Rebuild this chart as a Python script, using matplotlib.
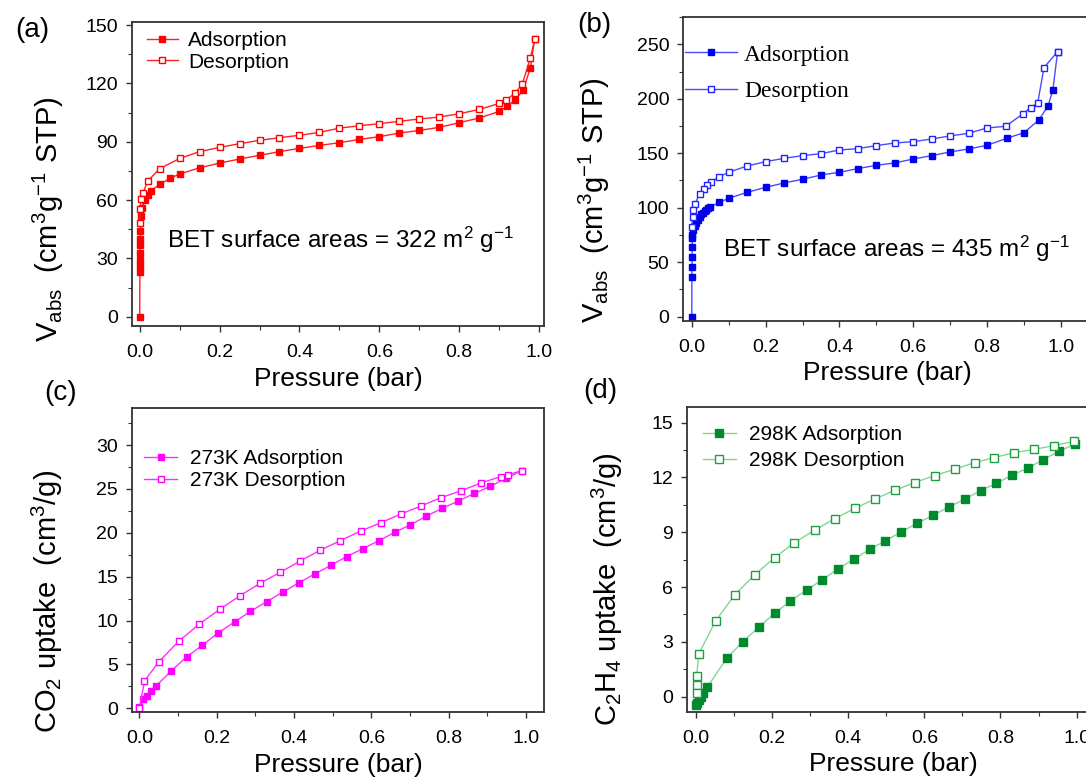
import numpy as np
import matplotlib
matplotlib.use("Agg")
import matplotlib.pyplot as plt
from matplotlib.ticker import MultipleLocator, FormatStrFormatter

plt.rcParams['font.family'] = ['Liberation Sans', 'DejaVu Sans']
plt.rcParams['mathtext.fontset'] = 'custom'
plt.rcParams['mathtext.rm'] = 'Liberation Sans'
plt.rcParams['mathtext.it'] = 'Liberation Sans:italic'
plt.rcParams['mathtext.bf'] = 'Liberation Sans:bold'

# ---------------- data ----------------
# (a) N2 isotherm, red
a_ads_p = [0.0, 0.0005, 0.0006, 0.0008, 0.001, 0.0012, 0.0015, 0.002, 0.003, 0.006, 0.013, 0.02, 0.028,
           0.05, 0.075, 0.10, 0.15, 0.20, 0.25, 0.30, 0.35, 0.40, 0.45, 0.50, 0.55, 0.60, 0.65, 0.70,
           0.75, 0.80, 0.85, 0.90, 0.92, 0.94, 0.96, 0.978, 0.989]
a_ads_v = [0, 23, 26, 29, 33, 37, 40, 44, 51.8, 55.7, 60, 62.6, 64.8, 68, 71.1, 73.4, 76.6, 79, 81.1,
           83, 84.9, 86.6, 88.1, 89.5, 91.2, 92.6, 94.5, 95.8, 97.4, 99.8, 102.2, 105.6, 108.3, 111.4,
           116.6, 127.9, 142.8]
a_des_p = [0.989, 0.978, 0.958, 0.94, 0.918, 0.90, 0.85, 0.80, 0.75, 0.70, 0.65, 0.60, 0.55, 0.50,
           0.45, 0.40, 0.35, 0.30, 0.25, 0.20, 0.15, 0.10, 0.05, 0.02, 0.008, 0.003, 0.0015, 0.0005]
a_des_v = [142.8, 133, 119.8, 115, 111.6, 109.7, 106.6, 104.4, 102.7, 101.7, 100.5, 99.3, 98.2, 97,
           94.8, 93.3, 92.1, 90.7, 89, 87.1, 84.9, 81.4, 76.1, 69.8, 63.4, 60.3, 55.4, 48.3]

# (b) N2 isotherm, blue
b_ads_p = [0.0, 0.0003, 0.0005, 0.0008, 0.001, 0.0013, 0.0015, 0.0045, 0.008, 0.012, 0.016, 0.021,
           0.025, 0.03, 0.035, 0.039, 0.044, 0.048, 0.075, 0.10, 0.15, 0.20, 0.25, 0.30, 0.35, 0.40,
           0.45, 0.50, 0.55, 0.60, 0.65, 0.70, 0.75, 0.80, 0.853, 0.90, 0.94, 0.965, 0.978, 0.991]
b_ads_v = [0, 36.7, 45.9, 55, 64.3, 72, 75, 79.6, 83, 86.3, 89, 91.8, 93.8, 95.5, 97, 97.9, 99.3,
           100.4, 105, 108.6, 114.1, 118.7, 122.7, 126.1, 130, 132.5, 135.9, 138.9, 141.1, 144.7,
           147.8, 151.2, 153.9, 157.3, 163.7, 168.9, 180.5, 193.4, 208.1, 243.3]
b_des_p = [0.991, 0.954, 0.937, 0.918, 0.898, 0.85, 0.80, 0.75, 0.70, 0.65, 0.60, 0.55, 0.50, 0.45,
           0.40, 0.35, 0.30, 0.25, 0.20, 0.15, 0.10, 0.075, 0.051, 0.042, 0.032, 0.021, 0.008, 0.0045,
           0.002, 0.0]
b_des_v = [243.3, 228.6, 196.1, 191.9, 186.4, 174.7, 173.2, 168.3, 165.9, 163.1, 160.6, 159.4, 157,
           154.2, 153, 149.6, 147.8, 145.3, 142.3, 138.3, 132.5, 128.5, 123.6, 120.6, 117.2, 112.6,
           103.1, 97.9, 91.2, 82]

# (c) CO2 at 273 K, magenta
c_ads_p = [0.0, 0.01, 0.019, 0.03, 0.042, 0.082, 0.122, 0.163, 0.204, 0.246, 0.287, 0.329, 0.371,
           0.412, 0.453, 0.495, 0.536, 0.578, 0.619, 0.66, 0.70, 0.742, 0.783, 0.824, 0.866, 0.907,
           0.948, 0.989]
c_ads_v = [0.1, 1.0, 1.4, 2.0, 2.5, 4.25, 5.85, 7.2, 8.6, 9.84, 11.05, 12.15, 13.25, 14.3, 15.3,
           16.3, 17.3, 18.2, 19.1, 20.05, 20.9, 21.9, 22.8, 23.6, 24.5, 25.3, 26.2, 27.1]
c_des_p = [0.989, 0.952, 0.934, 0.884, 0.832, 0.779, 0.728, 0.676, 0.624, 0.572, 0.519, 0.467,
           0.416, 0.364, 0.312, 0.259, 0.208, 0.155, 0.103, 0.05, 0.013, 0.0]
c_des_v = [27.1, 26.6, 26.4, 25.7, 24.8, 24.0, 23.05, 22.15, 21.15, 20.2, 19.1, 18.0, 16.8, 15.5,
           14.25, 12.8, 11.3, 9.6, 7.7, 5.3, 3.1, 0.0]

# (d) C2H4 at 298 K, green
d_ads_p = [0.0, 0.004, 0.009, 0.013, 0.018, 0.03, 0.082, 0.123, 0.166, 0.207, 0.248, 0.291, 0.332,
           0.373, 0.415, 0.457, 0.498, 0.54, 0.581, 0.623, 0.665, 0.707, 0.748, 0.789, 0.83, 0.871,
           0.912, 0.954, 0.996]
d_ads_v = [-0.45, -0.36, -0.2, 0.0, 0.2, 0.52, 2.13, 3.0, 3.82, 4.57, 5.23, 5.85, 6.39, 7.0, 7.52,
           8.07, 8.53, 9.03, 9.49, 9.93, 10.39, 10.82, 11.28, 11.68, 12.12, 12.5, 12.97, 13.43, 13.83]
d_des_p = [0.994, 0.941, 0.889, 0.836, 0.784, 0.732, 0.68, 0.627, 0.575, 0.523, 0.47, 0.417, 0.365,
           0.313, 0.258, 0.207, 0.155, 0.102, 0.052, 0.008, 0.002, 0.002, 0.002]
d_des_v = [13.98, 13.74, 13.54, 13.35, 13.09, 12.81, 12.45, 12.1, 11.72, 11.3, 10.82, 10.3, 9.75,
           9.13, 8.42, 7.61, 6.68, 5.57, 4.15, 2.36, 1.14, 0.65, 0.23]

W, H = 1086.0, 780.0


def make_ax(left, top, right, bottom):
    return fig.add_axes([left / W, 1 - bottom / H, (right - left) / W, (bottom - top) / H])


def style(ax, xlim, ylim, ymaj, ymin):
    ax.set_xlim(*xlim)
    ax.set_ylim(*ylim)
    ax.xaxis.set_major_locator(MultipleLocator(0.2))
    ax.xaxis.set_minor_locator(MultipleLocator(0.1))
    ax.xaxis.set_major_formatter(FormatStrFormatter('%.1f'))
    ax.yaxis.set_major_locator(MultipleLocator(ymaj))
    ax.yaxis.set_minor_locator(MultipleLocator(ymin))
    for s in ax.spines.values():
        s.set_color('#333333')
        s.set_linewidth(1.3)
    ax.tick_params(which='both', direction='out', color='#333333', top=False, right=False)
    ax.tick_params(which='major', length=4, width=1, labelsize=14, pad=6)
    ax.tick_params(axis='x', which='major', pad=9)
    ax.tick_params(which='minor', length=3, width=0.8)
    ax.set_xlabel('Pressure (bar)', fontsize=19, labelpad=4)


fig = plt.figure(figsize=(W / 100, H / 100), dpi=100)

# ---- (a)
ax = make_ax(131.7, 22, 544.3, 326)
ax.plot(a_ads_p, a_ads_v, color='#ff2020', lw=1, marker='s', ms=4.5, mfc='#ff0000', mec='#ff0000',
        label='Adsorption')
ax.plot(a_des_p, a_des_v, color='#ff2020', lw=1, marker='s', ms=4.5, mfc='white', mec='#ff0000',
        label='Desorption')
style(ax, (-0.02, 1.013), (-4.8, 151.6), 30, 15)
ax.set_ylabel(r'V$_{\rm abs}$  (cm$^3$g$^{-1}$ STP)', fontsize=21)
ax.yaxis.set_label_coords(-0.16, 0.35)
ax.legend(loc='upper left', bbox_to_anchor=(0.036, 0.97), frameon=False, fontsize=15,
          handlelength=1.5, handletextpad=0.5, labelspacing=0.12, borderpad=0, borderaxespad=0)
ax.text(0.085, 0.257, r'BET surface areas = 322 m$^2$ g$^{-1}$', transform=ax.transAxes,
        fontsize=17.5, va='baseline')
fig.text(32 / W, 1 - 30 / H, '(a)', fontsize=20, ha='center', va='center')

# ---- (b)
ax = make_ax(683.3, 16.7, 1090.5, 320.7)
ax.plot(b_ads_p, b_ads_v, color='#4a4aff', lw=1, marker='s', ms=4.5, mfc='#0000ee', mec='#0000ee',
        label='Adsorption')
ax.plot(b_des_p, b_des_v, color='#4a4aff', lw=1, marker='s', ms=4.5, mfc='white', mec='#2222ff',
        label='Desorption')
style(ax, (-0.023, 1.08), (-3.7, 275.3), 50, 25)
ax.set_ylabel(r'V$_{\rm abs}$  (cm$^3$g$^{-1}$ STP)', fontsize=21)
ax.yaxis.set_label_coords(-0.175, 0.397)
ax.legend(loc='upper left', bbox_to_anchor=(0.004, 0.91), frameon=False,
          prop={'family': 'Liberation Serif', 'size': 17},
          handlelength=2.2, handletextpad=0.3, labelspacing=0.65, borderpad=0, borderaxespad=0)
ax.text(0.097, 0.21, r'BET surface areas = 435 m$^2$ g$^{-1}$', transform=ax.transAxes,
        fontsize=17.5, va='baseline')
fig.text(594 / W, 1 - 25 / H, '(b)', fontsize=20, ha='center', va='center')

# ---- (c)
ax = make_ax(131.7, 408.3, 544.3, 712.3)
ax.plot(c_ads_p, c_ads_v, color='#ff30ff', lw=1, marker='s', ms=5, mfc='#ff00ff', mec='#ff00ff',
        label='273K Adsorption')
ax.plot(c_des_p, c_des_v, color='#ff30ff', lw=1, marker='s', ms=5, mfc='white', mec='#ff00ff',
        label='273K Desorption')
style(ax, (-0.02, 1.047), (-0.46, 34.2), 5, 2.5)
ax.set_ylabel(r'CO$_2$ uptake  (cm$^3$/g)', fontsize=21)
ax.yaxis.set_label_coords(-0.162, 0.364)
ax.legend(loc='upper left', bbox_to_anchor=(0.03, 0.865), frameon=False, fontsize=15,
          handlelength=1.6, handletextpad=0.6, labelspacing=0.15, borderpad=0, borderaxespad=0)
fig.text(61 / W, 1 - 393 / H, '(c)', fontsize=20, ha='center', va='center')

# ---- (d)
ax = make_ax(686.7, 406.7, 1099.5, 711.7)
ax.plot(d_ads_p, d_ads_v, color='#80d890', lw=1, marker='s', ms=5.5, mfc='#008a2e', mec='#008a2e',
        label='298K Adsorption')
ax.plot(d_des_p, d_des_v, color='#80d890', lw=1, marker='s', ms=5.5, mfc='white', mec='#1aa040',
        label='298K Desorption')
style(ax, (-0.024, 1.06), (-0.82, 15.87), 3, 1.5)
ax.set_ylabel(r'C$_2$H$_4$ uptake  (cm$^3$/g)', fontsize=21)
ax.yaxis.set_label_coords(-0.149, 0.402)
ax.legend(loc='upper left', bbox_to_anchor=(0.039, 0.94), frameon=False, fontsize=15,
          handlelength=1.6, handletextpad=0.6, labelspacing=0.35, borderpad=0, borderaxespad=0)
fig.text(600 / W, 1 - 391 / H, '(d)', fontsize=20, ha='center', va='center')

fig.savefig('out.png', dpi=100)
